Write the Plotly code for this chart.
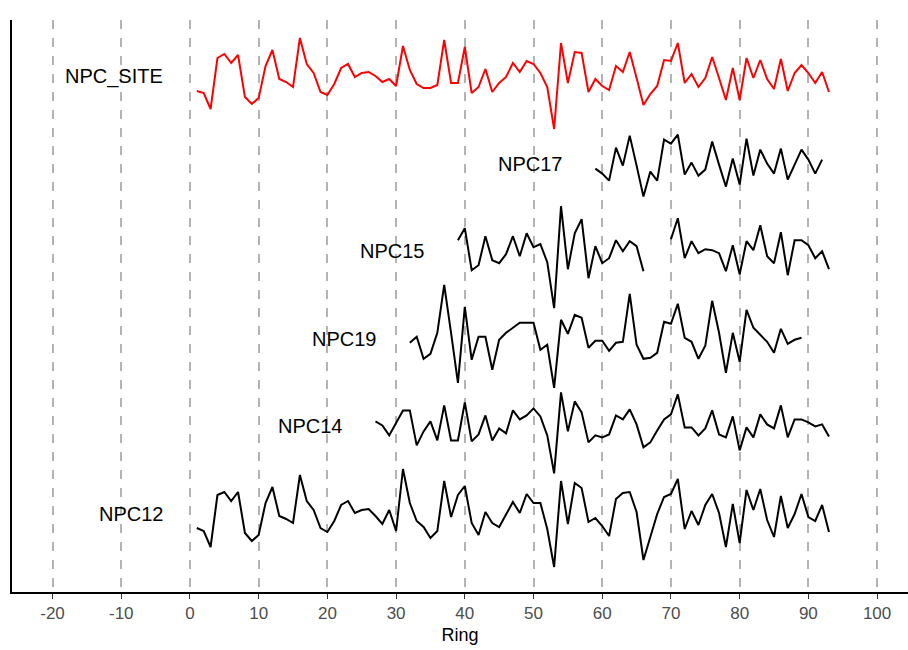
import plotly.graph_objects as go

# ---- data (signal values, arbitrary units) ----
npc12_rings = list(range(1, 94))
npc12_vals = [-13, -16, -32, 20, 23, 14, 23, -18, -26, -20, 12, 28, -1, -4, -8, 40, 14, 5, -13, -17,
              -6, 10, 14, 2, 5, 6, -1, -9, 5, -16, 46, 12, -6, -12, -23, -16, 34, -2, 20, 29,
              -8, -20, 3, -8, -12, 1, 13, 2, 21, 12, 12, -14, -52, 34, -9, 32, 27, -7, -3, -11,
              -21, 16, 22, 23, 3, -45, -22, 1, 18, 21, 36, -14, 4, -10, 10, 21, 2, -32, 11, -28,
              25, 5, 26, -5, -22, 19, -13, 1, 21, -2, -6, 10, -17]

site_rings = list(range(1, 94))
site_vals = [-14, -16, -32, 19, 23, 14, 22, -20, -27, -21, 11, 27, -2, -5, -10, 39, 13, 4, -15, -18,
             -7, 9, 13, 0, 4, 5, 1, -5, -2, -9, 31, 7, -7, -11, -11, -8, 37, -6, -6, 30,
             -16, -10, 8, -15, -6, 0, 14, 5, 16, 13, 4, -10, -52, 34, -6, 25, 24, -15, -2, -9,
             -13, 11, 5, 25, -1, -28, -17, -9, 17, 16, 34, -6, 3, -10, -1, 20, -1, -23, 9, -23,
             19, -1, 17, -2, -12, 18, -14, 4, 12, 4, -6, 5, -15]

npc17_rings = list(range(59, 93))
npc17_vals = [-4, -9, -16, 17, -1, 29, -1, -32, -7, -16, 25, 21, 30, -10, 2, -11, -5, 23, 0, -22,
              6, -20, 26, -11, 15, 1, -9, 16, -15, 0, 15, 5, -9, 5]

npc15_rings = list(range(39, 94))
npc15_vals = [12, 24, -18, -13, 16, -8, -11, -2, 16, -4, 19, 5, 8, -10, -56, 46, -17, 19, 33, -26,
              6, -11, -6, 12, 1, 11, 6, -19, None, None, None, 13, 34, -6, 11, -1, 3, 2, -1, -19,
              7, -22, 11, 2, 27, -4, -11, 20, -23, 12, 12, 7, -6, 1, -17]

npc19_rings = list(range(32, 90))
npc19_vals = [-3, 3, -19, -14, 7, 55, 7, -43, 33, -20, 3, 3, -30, 0, 7, 12, 17, 17, 17, -10,
              -5, -48, 20, 6, 25, 22, -8, -1, -1, -11, -3, -2, 46, -5, -19, -18, -13, 18, 16, 36,
              2, -2, -19, -6, 39, 7, -33, 7, -22, 30, 12, 5, -2, -13, 11, -4, 0, 2]

npc14_rings = list(range(27, 94))
npc14_vals = [6, 2, -8, 5, 17, 17, -18, -4, 6, -13, 22, -13, -13, 25, -14, -7, 12, -13, -1, -6,
              17, 8, 12, 19, 11, -8, -46, 35, -4, 26, 15, -15, -8, -10, -7, 12, 8, 18, 3, -20,
              -15, -3, 8, 13, 33, 0, 0, -8, -1, 17, -7, -10, 11, -23, 0, -10, 13, 3, -1, 22,
              -10, 8, 8, 5, 1, 3, -9]

series = [
    ("NPC12", npc12_rings, npc12_vals, "black"),
    ("NPC14", npc14_rings, npc14_vals, "black"),
    ("NPC19", npc19_rings, npc19_vals, "black"),
    ("NPC15", npc15_rings, npc15_vals, "black"),
    ("NPC17", npc17_rings, npc17_vals, "black"),
    ("NPC_SITE", site_rings, site_vals, "#ff0000"),
]
spacing = 87.6
x_ticks = list(range(-20, 101, 10))

fig = go.Figure()
annotations = []
for i, (name, rings, vals, color) in enumerate(series):
    off = i * spacing
    ys = [None if v is None else v + off for v in vals]
    fig.add_trace(go.Scatter(x=rings, y=ys, mode="lines", name=name,
                             line=dict(color=color, width=2), connectgaps=False,
                             showlegend=False, hoverinfo="skip"))
    annotations.append(dict(x=rings[0] - 4.6, y=off + 1, text=name, showarrow=False,
                            xanchor="right", yanchor="middle",
                            font=dict(family="Liberation Sans, Arial, sans-serif", size=20, color="black")))

fig.update_layout(
    width=908, height=650,
    margin=dict(l=12, r=0, t=20, b=58),
    paper_bgcolor="white", plot_bgcolor="white",
    annotations=annotations,
    font=dict(family="Liberation Sans, Arial, sans-serif"),
)
fig.update_xaxes(
    range=[-25.9, 104.5], tickvals=x_ticks, ticktext=[str(t) for t in x_ticks],
    showgrid=True, gridcolor="#b3b3b3", griddash="dash", gridwidth=2,
    showline=True, linecolor="black", linewidth=1.5,
    ticks="outside", ticklen=5, tickcolor="#333333",
    tickfont=dict(size=17, color="#4d4d4d"),
    title=dict(text="Ring", font=dict(size=18, color="black"), standoff=6),
    zeroline=False,
)
fig.update_yaxes(
    range=[-77, 495], showticklabels=False, showgrid=False, zeroline=False,
    showline=True, linecolor="black", linewidth=1.5, ticks="",
)

fig.write_html("out.html")
